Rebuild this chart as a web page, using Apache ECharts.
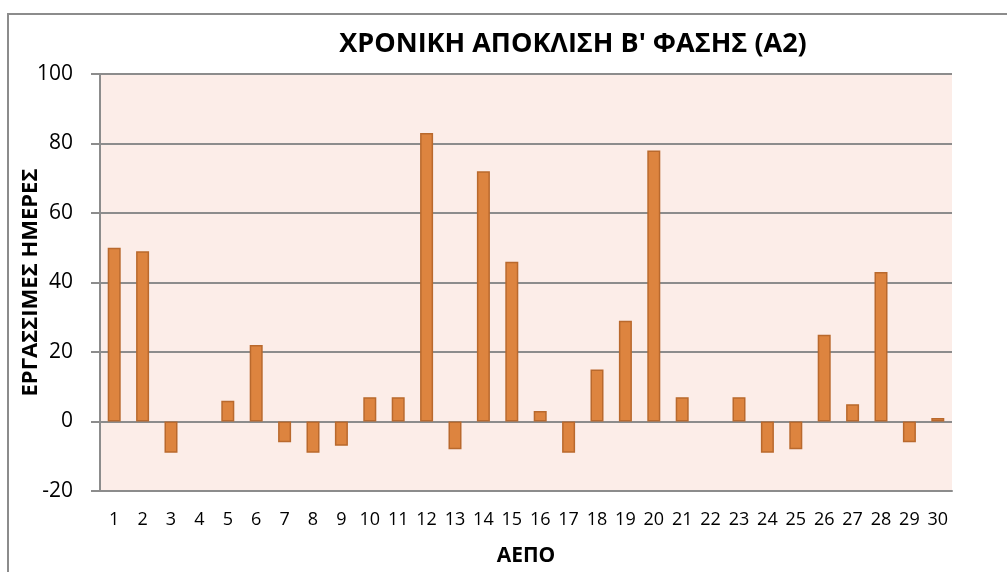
<!DOCTYPE html>
<html>
<head>
<meta charset="utf-8">
<script src="https://cdn.jsdelivr.net/npm/echarts@6/dist/echarts.min.js"></script>
<style>
  html, body { margin: 0; padding: 0; background: #fff; }
  #chart { width: 1007px; height: 572px; }
</style>
</head>
<body>
<div id="chart"></div>
<script>
  // categories (ΑΕΠΟ 1..30)
  var categories = ['1','2','3','4','5','6','7','8','9','10','11','12','13','14','15',
                    '16','17','18','19','20','21','22','23','24','25','26','27','28','29','30'];
  // working days of deviation
  var deviation = [50, 49, -9, 0, 6, 22, -6, -9, -7, 7, 7, 83, -8, 72, 46,
                   3, -9, 15, 29, 78, 7, 0, 7, -9, -8, 25, 5, 43, -6, 1];

  var titleText = "ΧΡΟΝΙΚΗ ΑΠΟΚΛΙΣΗ Β' ΦΑΣΗΣ (Α2)";
  var yName = 'ΕΡΓΑΣΣΙΜΕΣ ΗΜΕΡΕΣ';
  var xName = 'ΑΕΠΟ';

  var font = 'Open Sans';
  var chart = echarts.init(document.getElementById('chart'));

  // zero bars get no outline, so no stray line is drawn on the zero grid line
  var barData = deviation.map(function (v) {
    return v === 0 ? { value: v, itemStyle: { borderWidth: 0 } } : v;
  });

  chart.setOption({
    animation: false,
    backgroundColor: '#ffffff',
    textStyle: { fontFamily: font },
    title: {
      text: titleText,
      left: 568,
      top: 26,
      textAlign: 'center',
      textStyle: { fontFamily: font, fontSize: 27, fontWeight: 'bold', color: '#000' }
    },
    graphic: [{
      type: 'rect',
      shape: { x: 8, y: 14, width: 1200, height: 700 },
      style: { fill: 'none', stroke: '#8c8c8c', lineWidth: 2 },
      silent: true
    }],
    grid: {
      left: 100,
      right: 55,
      top: 74,
      bottom: 81,
      outerBoundsMode: 'none',
      containLabel: false,
      show: true,
      backgroundColor: '#fcede8',
      borderWidth: 0
    },
    xAxis: {
      type: 'category',
      data: categories,
      name: xName,
      nameLocation: 'middle',
      nameGap: 55,
      nameMoveOverlap: false,
      nameTextStyle: { fontFamily: font, fontSize: 21, fontWeight: 'bold', color: '#000' },
      axisLine: { onZero: false, lineStyle: { color: '#8c8c8c', width: 2 } },
      axisTick: { show: false },
      axisLabel: { fontFamily: font, fontSize: 18, color: '#000', margin: 20 }
    },
    yAxis: {
      type: 'value',
      min: -20,
      max: 100,
      interval: 20,
      name: yName,
      nameLocation: 'middle',
      nameGap: 58,
      nameMoveOverlap: false,
      nameTextStyle: { fontFamily: font, fontSize: 22, fontWeight: 'bold', color: '#000' },
      axisLine: { show: true, lineStyle: { color: '#8c8c8c', width: 2 } },
      axisTick: { show: true, length: 9, lineStyle: { color: '#8c8c8c', width: 2 } },
      axisLabel: { fontFamily: font, fontSize: 21, color: '#000', margin: 27 },
      splitLine: { lineStyle: { color: '#8c8c8c', width: 2 } }
    },
    series: [{
      type: 'bar',
      data: barData,
      barWidth: 13,
      itemStyle: {
        color: '#dd843f',
        borderColor: '#b9692d',
        borderWidth: 1.5
      }
    }]
  });
</script>
</body>
</html>
